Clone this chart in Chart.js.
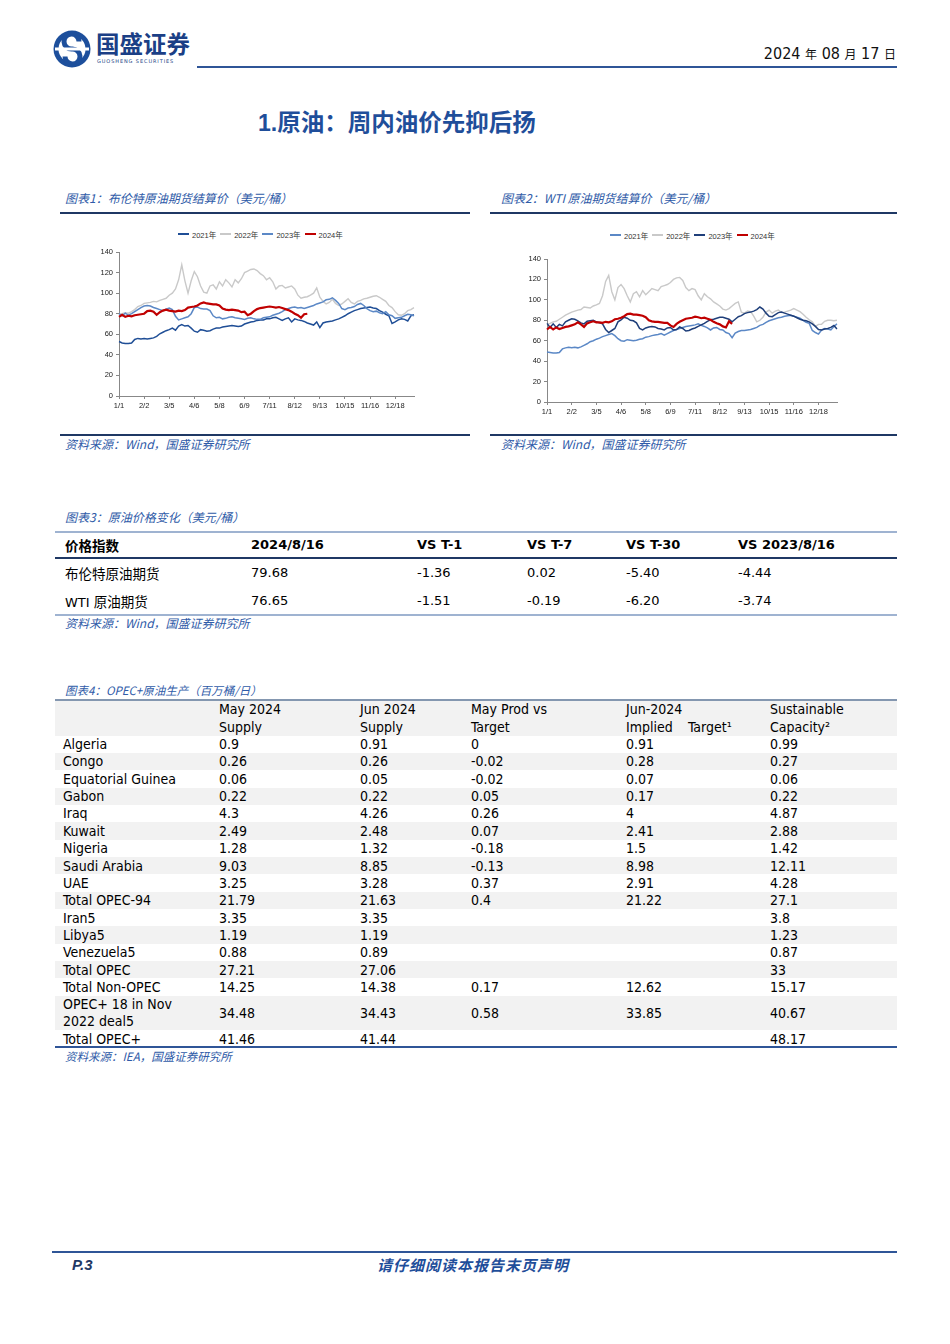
<!DOCTYPE html>
<html><head><meta charset="utf-8">
<script src="https://cdn.jsdelivr.net/npm/chart.js@4.4.1/dist/chart.umd.min.js"></script>
<style>
html,body{margin:0;padding:0;background:#fff;}
body{width:950px;height:1344px;position:relative;overflow:hidden;font-family:"Liberation Sans","Noto Sans CJK SC",sans-serif;color:#000;}
.a{position:absolute;white-space:nowrap;}
.bar{position:absolute;}
.cap{font-family:"Noto Sans CJK SC",sans-serif;font-style:italic;font-size:12px;color:#2f5ba8;line-height:16px;height:16px;}
.t3{font-family:"DejaVu Sans","Noto Sans CJK SC",sans-serif;font-size:13px;line-height:18px;height:18px;}
.t3 .cj{font-family:"Noto Sans CJK SC";font-size:13.5px;}
.t3b{font-weight:bold;}
.t4{font-family:"DejaVu Sans Condensed","DejaVu Sans",sans-serif;font-stretch:condensed;font-size:14px;line-height:17px;height:17px;}
.leg{position:absolute;display:flex;align-items:center;font-family:"Liberation Sans","Noto Sans CJK SC",sans-serif;font-size:7.5px;color:#333;white-space:nowrap;}
.leg span.l{display:inline-block;width:11px;height:2px;margin-right:3px;}
.leg span.t{margin-right:4px;}
canvas{position:absolute;}
</style>
</head>
<body>
<script>
// ---------- DATA ----------
const X_TICKS = ['1/1','2/2','3/5','4/6','5/8','6/9','7/11','8/12','9/13','10/15','11/16','12/18'];
const N_POINTS = 95;       // samples along the x axis (every 8th carries a tick label)
const SERIES_NAMES = ['2021年','2022年','2023年','2024年'];

const BRENT_2021 = [53,51.5,51,51,51.5,55,56,55.5,56,55.5,56,56.5,58,60.5,62,63.5,64.5,66,64,68,69.5,68,68.5,66,63,62,64.5,64,63,63.5,65,66,66,67,67.5,68,68.5,68,67.5,68,70,71,72,72.5,73.5,74,74,75,75,76,76.5,75,73.5,75,76,72,75,74,73.5,72.5,71,70,69,72,66.5,71,72,72.5,73,74,75,76.5,78,80,81.5,83,84,85,85.5,86,86.5,85.5,85,83,81.5,79.5,78,70.5,72,74,75,74.5,73,78,79];
const BRENT_2022 = [79,80,81,80.5,82,84,87,88,90,90.5,91,92,91.5,93,94,95,98,100,104,113,127.5,112,100,112,121,116,107,101,100,107,108,104,111,107,113,110,106,113,110,114,120,121.5,123,123.5,122,119,117,113,115,111,104,107,107.5,105,106,107,104,98,95,96,96.5,98,100,105,96,92,89.5,91,94,90,88,89.5,92,94.5,91,89.5,92,93,94.5,95,96,97,97.5,96,94,92,88,86,82,79,78.5,80,83,84,86];
const BRENT_2023 = [80,78,80.5,78.5,80,82,84,86,87.5,88,87.5,86,85,84,83,84.5,85.5,84,77.5,74,75,76,77,80,86,86.5,85,84.5,84.5,83,78,76,76.5,75,75.5,76.5,77,76,75.5,75,74.5,75.5,76,75,74.5,74.5,76,76.5,77,78.5,79.5,80.5,82,84,85,86,86.5,85.5,86,85,86,87,88,89.5,90.5,91.5,93.5,94,95.5,93,90,85,84,85.5,86,87,89,90,88,85,83,82,82.5,81,80,82,79,78,75.5,76,76.5,78,79.5,79,78];
const BRENT_2024 = [77,79,77,78,77.5,78.5,79,79.5,80,82.5,83,82,79,81.5,83,84,83,82.5,82,83,82.5,83.5,86,86.5,87,88,90,91,90,89.5,89,89,88,85,84,83.5,84,83.5,83,81.5,82,78.5,80,82.5,84.5,85.5,86,86.5,87,86.5,86,86.5,85.5,84.5,83.5,82,80,78.5,76,79.5,80];

const WTI_2021 = [49,48.5,48,48,48.5,52,53,53.5,53,53.5,53,54,55.5,57,59,60,61.5,62.5,64,65,66,67,65,62,60,59.5,61,60.5,60,60.5,61.5,62,63.5,64,65,65.5,66,67,65.5,67,68.5,70,71,72,73,74,74.5,75,75.5,76.5,75,74,72.5,70.5,72.5,73,71,70.5,68,67,63,67.5,69,70,70,70.5,71,72,73,75,76,78,79.5,80.5,81.5,82.5,83,84,84.5,85,84,83,82,80,78,77,70,68,66.5,70.5,72,71.5,70.5,74,76.5];
const WTI_2022 = [76,77,78.5,79,81,83,85,86.5,88,89,90,90.5,93,92.5,92,94,95,96.5,104,118,124,108,100,112,115,111,104,98,106,108,103,109,105,108,111,110,109,113,114,115,117,120,121.5,122,119,112,109,111,110,104,100,106,103,101,98,96,94,91,90,91.5,94,96.5,98,88,87,89,88.5,84,78.5,80,83,88,90,87,89,90,87.5,88,89,90,91.5,90,88.5,86,83,80.5,78.5,74,76,76,79,80,80,79.5,80];
const WTI_2023 = [77,73,76.5,73,76,74.5,78.5,80,81.5,81,79.5,77.5,76.5,79,79.5,80,78.5,77.5,76.5,71,68,70,72,78.5,80.5,83,82,80,79.5,77.5,72,70.5,72.5,73.5,74,73.5,72,71.5,70.5,72.5,73,70.5,71,73.5,72,69.5,70,71.5,72.5,74,75.5,77,79,80.5,81,82,83,83,82,81,78.5,81,83.5,84.5,86.5,87.5,88,89,90.5,93,91,87,84,83.5,85.5,87.5,88,87,86,85,84,82.5,81,80,79.5,78.5,76.5,74,71,70.5,71.5,72,73,75,71.5];
const WTI_2024 = [71,73.5,71,73,71.5,72.5,73.5,74,75,76,78,76,73.5,77,78,79,78,78,77.5,78.5,78,79,81,81.5,82.5,84,86,86.5,85.5,85.5,85,84.5,83,80,79,78.5,78.5,78,77.5,77.5,75,73.5,76.5,78.5,80,81.5,82,82.5,83.5,83,82,82.5,81.5,80.5,78.5,77,76,74,73,79,76.5];

const T3_HEAD = ['价格指数','2024/8/16','VS T-1','VS T-7','VS T-30','VS 2023/8/16'];
const T3_NAMES = ['布伦特原油期货','WTI 原油期货'];
const T3_PRICE = ['79.68','76.65'];
const T3_T1 = ['-1.36','-1.51'];
const T3_T7 = ['0.02','-0.19'];
const T3_T30 = ['-5.40','-6.20'];
const T3_YOY = ['-4.44','-3.74'];

const T4_HEAD1 = ['May 2024','Jun 2024','May Prod vs','Jun-2024','Sustainable'];
const T4_HEAD2 = ['Supply','Supply','Target','Implied','Capacity²'];
const T4_NAMES = ['Algeria','Congo','Equatorial Guinea','Gabon','Iraq','Kuwait','Nigeria','Saudi Arabia','UAE','Total OPEC-94','Iran5','Libya5','Venezuela5','Total OPEC','Total Non-OPEC','OPEC+ 18 in Nov|2022 deal5','Total OPEC+'];
const T4_MAY = ['0.9','0.26','0.06','0.22','4.3','2.49','1.28','9.03','3.25','21.79','3.35','1.19','0.88','27.21','14.25','34.48','41.46'];
const T4_JUN = ['0.91','0.26','0.05','0.22','4.26','2.48','1.32','8.85','3.28','21.63','3.35','1.19','0.89','27.06','14.38','34.43','41.44'];
const T4_VS = ['0','-0.02','-0.02','0.05','0.26','0.07','-0.18','-0.13','0.37','0.4','','','','','0.17','0.58',''];
const T4_TARGET = ['0.91','0.28','0.07','0.17','4','2.41','1.5','8.98','2.91','21.22','','','','','12.62','33.85',''];
const T4_CAP = ['0.99','0.27','0.06','0.22','4.87','2.88','1.42','12.11','4.28','27.1','3.8','1.23','0.87','33','15.17','40.67','48.17'];
</script>

<!-- header -->
<svg class="a" style="left:52px;top:29px" width="40" height="40" viewBox="0 0 40 40">
  <circle cx="20" cy="20" r="18.5" fill="#1d4f9c"/>
  <circle cx="20" cy="20" r="13.5" fill="#fff"/>
  <path d="M27 12.5 A7.5 7.5 0 1 0 20 20 A7.5 7.5 0 1 1 13 27.5" fill="none" stroke="#1d4f9c" stroke-width="5"/>
  <rect x="3" y="18.5" width="34" height="3" fill="#fff"/>
</svg>
<div class="a" style="left:96px;top:31px;height:25px;font-family:'Noto Sans CJK SC';font-weight:bold;font-size:23.5px;line-height:25px;color:#1b3f86">国盛证券</div>
<div class="a" style="left:97px;top:58px;height:6px;font-family:'DejaVu Sans';font-size:5px;line-height:6px;color:#1b3f86;letter-spacing:0.9px">GUOSHENG SECURITIES</div>
<div class="a" style="right:54px;top:44px;font-family:'DejaVu Sans Condensed','DejaVu Sans';font-stretch:condensed;font-size:16px;line-height:20px;color:#111">2024 <span style="font-family:'Noto Sans CJK SC';font-size:12px">年</span> 08 <span style="font-family:'Noto Sans CJK SC';font-size:12px">月</span> 17 <span style="font-family:'Noto Sans CJK SC';font-size:12px">日</span></div>
<div class="bar" style="left:197px;top:66px;width:700px;height:2px;background:#2f5597"></div>

<!-- title -->
<div class="a" style="left:258px;top:106px;line-height:30px;height:30px;color:#1f4e9a;font-weight:bold"><span style="font-family:'Liberation Sans';font-size:23px">1.</span><span style="font-family:'Noto Sans CJK SC';font-size:23.5px">原油：周内油价先抑后扬</span></div>

<!-- chart captions -->
<div class="a cap" style="left:65px;top:190px">图表1：布伦特原油期货结算价（美元/桶）</div>
<div class="bar" style="left:60px;top:212px;width:410px;height:2px;background:#1f3864"></div>
<div class="a cap" style="left:501px;top:190px">图表2：WTI 原油期货结算价（美元/桶）</div>
<div class="bar" style="left:490px;top:212px;width:407px;height:2px;background:#1f3864"></div>

<div class="leg" id="leg1" style="left:178px;top:229px;height:10px"></div>
<div class="leg" id="leg2" style="left:610px;top:230px;height:10px"></div>

<canvas id="c1" width="410" height="178" style="left:60px;top:240px;width:410px;height:178px"></canvas>
<canvas id="c2" width="407" height="179" style="left:490px;top:245px;width:407px;height:179px"></canvas>

<div class="bar" style="left:60px;top:434px;width:410px;height:2px;background:#1f3864"></div>
<div class="bar" style="left:490px;top:434px;width:407px;height:2px;background:#1f3864"></div>
<div class="a cap" style="left:65px;top:436px">资料来源：Wind，国盛证券研究所</div>
<div class="a cap" style="left:501px;top:436px">资料来源：Wind，国盛证券研究所</div>

<!-- table 3 -->
<div class="a cap" style="left:65px;top:509px">图表3：原油价格变化（美元/桶）</div>
<div class="bar" style="left:55px;top:531px;width:842px;height:2px;background:#9fb3d1"></div>
<div class="bar" style="left:55px;top:557px;width:842px;height:1.5px;background:#1f3864"></div>
<div class="bar" style="left:55px;top:614px;width:842px;height:2px;background:#9fb3d1"></div>
<div id="t3"></div>
<div class="a cap" style="left:65px;top:615px">资料来源：Wind，国盛证券研究所</div>

<!-- table 4 -->
<div class="a cap" style="left:65px;top:682px;font-size:11.5px">图表4：OPEC+原油生产（百万桶/日）</div>
<div id="t4bg"></div>
<div class="bar" style="left:55px;top:699px;width:842px;height:1.5px;background:#8497b0"></div>
<div class="bar" style="left:55px;top:1046px;width:842px;height:1.5px;background:#2f5597"></div>
<div id="t4"></div>
<div class="a cap" style="left:65px;top:1048px;font-size:11.5px">资料来源：IEA，国盛证券研究所</div>

<!-- footer -->
<div class="bar" style="left:52px;top:1251px;width:845px;height:2px;background:#2f5597"></div>
<div class="a" style="left:72px;top:1255px;font-family:'Liberation Sans';font-weight:bold;font-style:italic;font-size:15px;line-height:20px;color:#1f3864">P.3</div>
<div class="a" style="left:377px;top:1255px;font-family:'Noto Sans CJK SC';font-weight:bold;font-style:italic;font-size:15px;line-height:20px;color:#1f4e9a;letter-spacing:1px">请仔细阅读本报告末页声明</div>

<script>
function put(parent, x, yc, text, cls, h, extra) {
  const d = document.createElement('div');
  d.className = 'a ' + cls;
  d.style.left = x + 'px';
  d.style.top = (yc - h / 2) + 'px';
  if (extra) d.style.cssText += extra;
  d.innerHTML = text;
  parent.appendChild(d);
  return d;
}
// table 3
(function(){
  const p = document.getElementById('t3');
  const cols = [65, 251, 417, 527, 626, 738];
  T3_HEAD.forEach((t, i) => put(p, cols[i], 545, i === 0 ? '<span class="cj" style="font-weight:bold">' + t + '</span>' : t, 't3 t3b', 18));
  const rows = [573, 601];
  T3_NAMES.forEach((n, r) => {
    const nm = n.replace(/([\u4e00-\u9fff]+)/g, '<span class="cj">$1</span>');
    const vals = [nm, T3_PRICE[r], T3_T1[r], T3_T7[r], T3_T30[r], T3_YOY[r]];
    vals.forEach((v, i) => put(p, cols[i], rows[r], v, 't3', 18));
  });
})();
// table 4
(function(){
  const bg = document.getElementById('t4bg');
  const bands = [736,753,770,788,805,822,840,857,874,892,909,926,944,961,978,996,1030,1047];
  const hb = document.createElement('div');
  hb.className = 'bar'; hb.style.cssText = 'left:55px;top:700px;width:842px;height:36px;background:#f2f2f2';
  bg.appendChild(hb);
  for (let i = 0; i < bands.length - 1; i++) {
    if (i % 2 === 1) {
      const b = document.createElement('div');
      b.className = 'bar';
      b.style.cssText = 'left:55px;top:' + bands[i] + 'px;width:842px;height:' + (bands[i+1]-bands[i]) + 'px;background:#f2f2f2';
      bg.appendChild(b);
    }
  }
  const p = document.getElementById('t4');
  const cols = [63, 219, 360, 471, 626, 770];
  T4_HEAD1.forEach((t, i) => put(p, cols[i+1], 709, t, 't4', 17));
  T4_HEAD2.forEach((t, i) => put(p, cols[i+1], 727, t, 't4', 17));
  put(p, 688, 727, 'Target¹', 't4', 17);
  const ys = [744,761,779,796,813,831,848,866,883,900,918,935,952,970,987,1013,1039];
  T4_NAMES.forEach((n, r) => {
    const y = ys[r];
    if (n.indexOf('|') >= 0) {
      const parts = n.split('|');
      put(p, cols[0], y - 9, parts[0], 't4', 17);
      put(p, cols[0], y + 8, parts[1], 't4', 17);
    } else put(p, cols[0], y, n, 't4', 17);
    [T4_MAY[r], T4_JUN[r], T4_VS[r], T4_TARGET[r], T4_CAP[r]].forEach((v, i) => { if (v !== '') put(p, cols[i+1], y, v, 't4', 17); });
  });
})();

// legends
function legend(id, colors) {
  const el = document.getElementById(id);
  SERIES_NAMES.forEach((n, i) => {
    el.insertAdjacentHTML('beforeend', '<span class="l" style="background:' + colors[i] + ';height:' + (i === 3 ? 2 : 1.5) + 'px"></span><span class="t">' + n + '</span>');
  });
}
const C1 = ['#1f4e96', '#c9c9c9', '#5b88c6', '#c00000'];
const C2 = ['#5b88c6', '#c9c9c9', '#1f3f7a', '#c00000'];
legend('leg1', C1);
legend('leg2', C2);

// charts
const CAT_LABELS = Array.from({length: N_POINTS}, (_, i) => (i % 8 === 0 && X_TICKS[i / 8]) ? X_TICKS[i / 8] : '');
function makeChart(id, series, colors, yWidth, padTop, padRight) {
  const widths = [1.5, 1.4, 1.5, 2.2];
  const orders = [3, 4, 2, 1];
  new Chart(document.getElementById(id), {
    type: 'line',
    data: {
      labels: CAT_LABELS,
      datasets: series.map((s, i) => ({
        label: SERIES_NAMES[i], data: s, borderColor: colors[i], backgroundColor: colors[i],
        borderWidth: widths[i], pointRadius: 0, tension: 0, fill: false, order: orders[i]
      }))
    },
    options: {
      responsive: false, animation: false, devicePixelRatio: 1,
      layout: { padding: { top: padTop, right: padRight, left: 0, bottom: 0 } },
      plugins: { legend: { display: false }, tooltip: { enabled: false } },
      scales: {
        x: {
          offset: false,
          grid: { drawOnChartArea: false, drawTicks: true, tickLength: 3, color: '#888' },
          border: { display: true, color: '#888', width: 1 },
          ticks: {
            autoSkip: false, maxRotation: 0, minRotation: 0, padding: 2,
            font: { family: 'Liberation Sans', size: 7.5 }, color: '#222',
            callback: function(v, i) { const l = CAT_LABELS[i]; return l ? l : null; }
          },
          afterFit: (s) => { s.height = 22; }
        },
        y: {
          min: 0, max: 140,
          grid: { drawOnChartArea: false, drawTicks: true, tickLength: 3, color: '#888' },
          border: { display: true, color: '#888', width: 1 },
          ticks: { stepSize: 20, padding: 3, font: { family: 'Liberation Sans', size: 7.5 }, color: '#222' },
          afterFit: (s) => { s.width = yWidth; }
        }
      }
    }
  });
}
makeChart('c1', [BRENT_2021, BRENT_2022, BRENT_2023, BRENT_2024], C1, 59, 12, 56);
makeChart('c2', [WTI_2021, WTI_2022, WTI_2023, WTI_2024], C2, 57, 14, 60);
</script>
</body></html>
